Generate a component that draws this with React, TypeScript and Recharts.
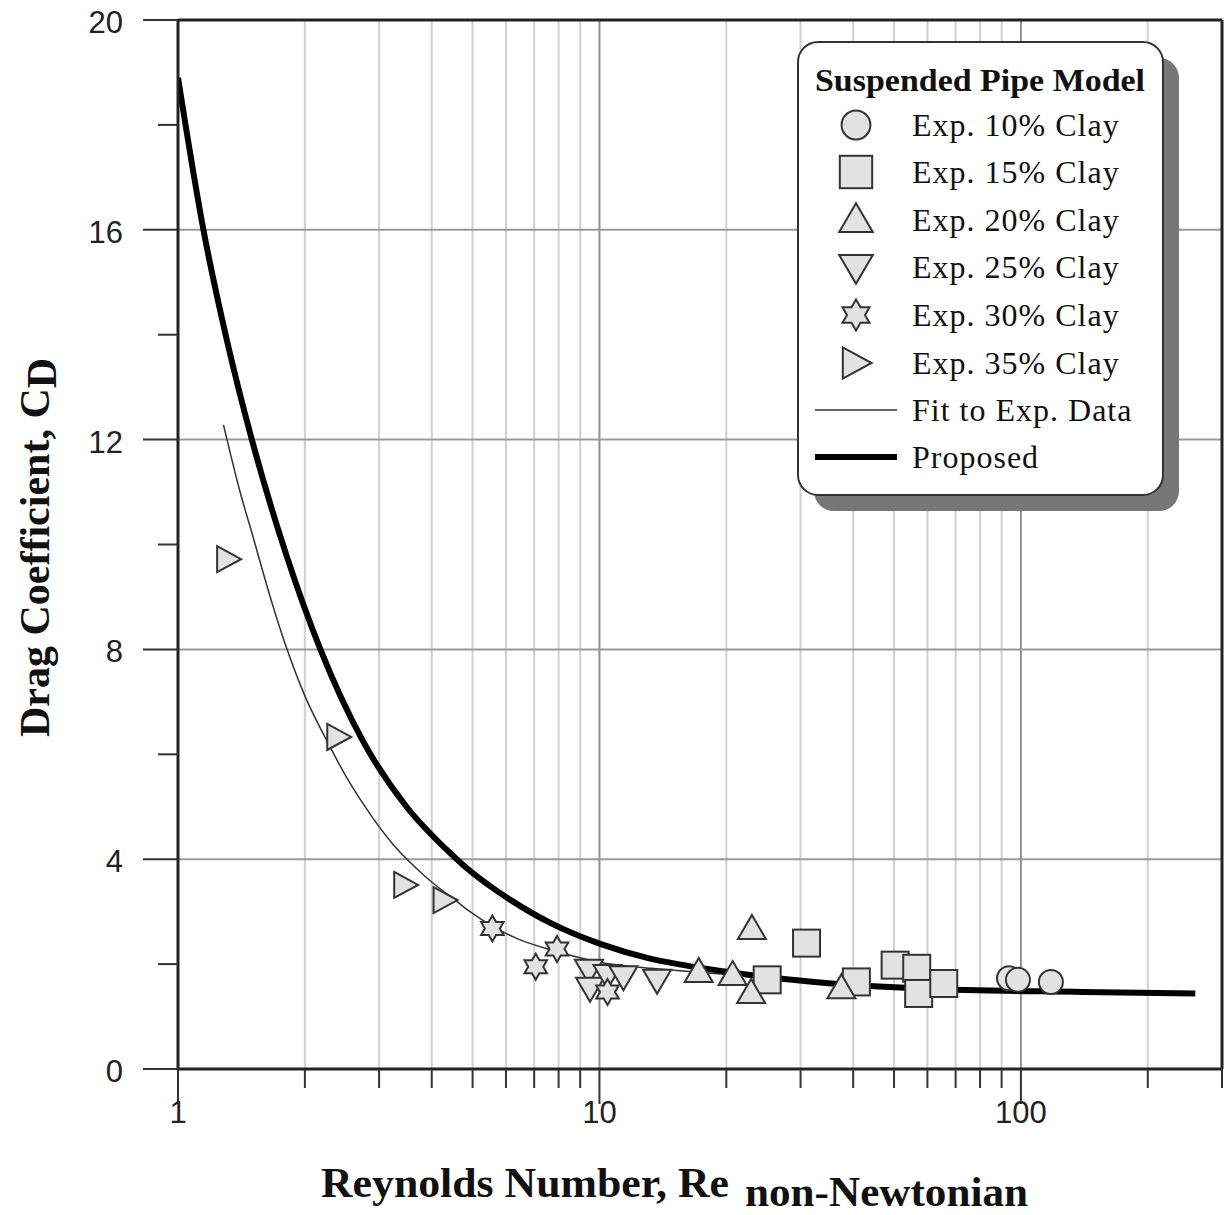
import React from 'react';
import { ComposedChart, XAxis, YAxis, Line, Scatter, ReferenceLine, Legend } from 'recharts';

// ---------- data ----------
const clay10 = [{ x: 93.7, y: 1.73 }, { x: 98.4, y: 1.7 }, { x: 117.8, y: 1.66 }];
const clay15 = [
  { x: 25, y: 1.7 }, { x: 31, y: 2.4 }, { x: 40.7, y: 1.66 }, { x: 50.3, y: 1.98 },
  { x: 56.6, y: 1.92 }, { x: 57.2, y: 1.44 }, { x: 65.6, y: 1.63 },
];
const clay20 = [
  { x: 17.2, y: 1.85 }, { x: 20.7, y: 1.79 }, { x: 23.0, y: 2.67 }, { x: 22.9, y: 1.45 }, { x: 37.5, y: 1.54 },
];
const clay25 = [
  { x: 9.44, y: 1.89 }, { x: 9.5, y: 1.55 }, { x: 10.45, y: 1.79 }, { x: 11.4, y: 1.77 }, { x: 13.7, y: 1.7 },
];
const clay30 = [{ x: 5.57, y: 2.68 }, { x: 7.06, y: 1.95 }, { x: 7.93, y: 2.29 }, { x: 10.45, y: 1.47 }];
const clay35 = [{ x: 1.315, y: 9.72 }, { x: 2.4, y: 6.33 }, { x: 3.46, y: 3.51 }, { x: 4.29, y: 3.22 }];

const fitCurve = [
  { x: 1.282, y: 12.28 }, { x: 1.404, y: 11.0 }, { x: 1.5, y: 10.2 }, { x: 1.655, y: 9.0 },
  { x: 1.797, y: 8.1 }, { x: 2.004, y: 7.1 }, { x: 2.258, y: 6.25 }, { x: 2.496, y: 5.6 },
  { x: 2.754, y: 5.05 }, { x: 3.246, y: 4.27 }, { x: 3.825, y: 3.7 }, { x: 4.609, y: 3.18 },
  { x: 4.948, y: 2.99 }, { x: 5.582, y: 2.72 }, { x: 6.401, y: 2.48 }, { x: 7.925, y: 2.24 },
  { x: 10.08, y: 2.03 }, { x: 13.26, y: 1.92 }, { x: 17.43, y: 1.84 }, { x: 22.93, y: 1.77 }, { x: 32.37, y: 1.66 },
];
const proposedCurve = [
  { x: 1.0, y: 18.9 }, { x: 1.149, y: 16.0 }, { x: 1.31, y: 13.85 }, { x: 1.497, y: 12.0 },
  { x: 1.816, y: 9.75 }, { x: 2.177, y: 8.0 }, { x: 2.739, y: 6.27 }, { x: 3.485, y: 5.0 },
  { x: 4.314, y: 4.2 }, { x: 4.762, y: 3.88 }, { x: 5.675, y: 3.41 }, { x: 6.16, y: 3.22 },
  { x: 7.666, y: 2.78 }, { x: 10.08, y: 2.38 }, { x: 13.26, y: 2.1 }, { x: 15.62, y: 1.99 },
  { x: 20.55, y: 1.84 }, { x: 32.37, y: 1.66 }, { x: 60.09, y: 1.53 }, { x: 139.7, y: 1.47 }, { x: 259.3, y: 1.44 },
];

const xTicks = [1, 2, 3, 4, 5, 6, 7, 8, 9, 10, 20, 30, 40, 50, 60, 70, 80, 90, 100, 200, 300];
const xLabelTicks = [1, 10, 100];
const yTicks = [0, 2, 4, 6, 8, 10, 12, 14, 16, 18, 20];
const yLabelTicks = [0, 4, 8, 12, 16, 20];
const minorGridX = [2, 3, 4, 5, 6, 7, 8, 9, 20, 30, 40, 50, 60, 70, 80, 90, 200];
const majorGridX = [10, 100];
const gridY = [4, 8, 12, 16];

const legendItems = [
  { label: 'Exp. 10% Clay', kind: 'circle' },
  { label: 'Exp. 15% Clay', kind: 'square' },
  { label: 'Exp. 20% Clay', kind: 'up' },
  { label: 'Exp. 25% Clay', kind: 'down' },
  { label: 'Exp. 30% Clay', kind: 'star' },
  { label: 'Exp. 35% Clay', kind: 'right' },
  { label: 'Fit to Exp. Data', kind: 'thin' },
  { label: 'Proposed', kind: 'thick' },
];

// ---------- styles ----------
const SERIF = '"Liberation Serif", "Times New Roman", serif';
const SANS = '"Liberation Sans", Arial, sans-serif';
const MFILL = '#e2e2e2';
const MSTROKE = '#333';
const MSW = 2;

// ---------- marker shapes ----------
function drawMarker(kind: string, cx: number, cy: number, s: number) {
  const common = { fill: MFILL, stroke: MSTROKE, strokeWidth: MSW };
  if (kind === 'circle') return <circle cx={cx} cy={cy} r={12 * s} {...common} />;
  if (kind === 'square') return <rect x={cx - 13.5 * s} y={cy - 13.5 * s} width={27 * s} height={27 * s} {...common} />;
  if (kind === 'up')
    return <polygon points={`${cx},${cy - 14 * s} ${cx + 14 * s},${cy + 10 * s} ${cx - 14 * s},${cy + 10 * s}`} {...common} />;
  if (kind === 'down')
    return <polygon points={`${cx - 14 * s},${cy - 10 * s} ${cx + 14 * s},${cy - 10 * s} ${cx},${cy + 14 * s}`} {...common} />;
  if (kind === 'right')
    return <polygon points={`${cx - 11 * s},${cy - 13 * s} ${cx + 13 * s},${cy} ${cx - 11 * s},${cy + 13 * s}`} {...common} />;
  if (kind === 'star') {
    const pts: string[] = [];
    for (let i = 0; i < 12; i++) {
      const r = (i % 2 === 0 ? 13 : 7.5) * s;
      const a = -Math.PI / 2 + (i * Math.PI) / 6;
      pts.push(`${cx + r * Math.cos(a)},${cy + r * Math.sin(a)}`);
    }
    return <polygon points={pts.join(' ')} {...common} />;
  }
  return null;
}

const shapeFor = (kind: string) => (p: any) => <g>{drawMarker(kind, p.cx, p.cy, 1)}</g>;

// ---------- ticks ----------
const XTick = (p: any) => {
  const v = p.payload.value;
  const major = xLabelTicks.includes(v);
  return (
    <g>
      <line x1={p.x} x2={p.x} y1={p.y} y2={p.y + (major ? 35 : 19)} stroke="#333" strokeWidth={2} />
      {major && (
        <text x={p.x} y={p.y + 54} textAnchor="middle" fontFamily={SANS} fontSize={31} fill="#222">
          {v}
        </text>
      )}
    </g>
  );
};

const YTick = (p: any) => {
  const v = p.payload.value;
  const major = yLabelTicks.includes(v);
  return (
    <g>
      <line x1={p.x - (major ? 35 : 20)} x2={p.x} y1={p.y} y2={p.y} stroke="#333" strokeWidth={2} />
      {major && (
        <text x={p.x - 55} y={p.y + 13} textAnchor="end" fontFamily={SANS} fontSize={31} fill="#222">
          {v}
        </text>
      )}
    </g>
  );
};

const XTitle = () => (
  <g>
    <text x={321} y={1197} fontFamily={SERIF} fontWeight="bold" fontSize={42} fill="#111" textLength={408} lengthAdjust="spacingAndGlyphs">
      Reynolds Number, Re
    </text>
    <text x={745} y={1206} fontFamily={SERIF} fontWeight="bold" fontSize={42} fill="#111" textLength={283} lengthAdjust="spacingAndGlyphs">
      non-Newtonian
    </text>
  </g>
);

const YTitle = () => (
  <g transform="translate(49,737) rotate(-90)">
    <text x={0} y={0} fontFamily={SERIF} fontWeight="bold" fontSize={42} fill="#111">
      <tspan>Drag Coefficient, C</tspan>
      <tspan dy={7}>D</tspan>
    </text>
  </g>
);

// ---------- legend ----------
const LegendBox = () => {
  const rowY = [84, 131, 179, 226, 274, 322, 369, 416];
  return (
    <svg width={400} height={490} style={{ display: 'block' }}>
      <rect x={17} y={17} width={365} height={453} rx={20} fill="#777" />
      <rect x={1} y={1} width={365} height={453} rx={20} fill="#fff" stroke="#333" strokeWidth={2} />
      <text x={18} y={50} fontFamily={SERIF} fontWeight="bold" fontSize={32} fill="#111" textLength={330} lengthAdjust="spacingAndGlyphs">
        Suspended Pipe Model
      </text>
      {legendItems.map((it, i) => {
        const cy = rowY[i];
        let icon: any = null;
        if (it.kind === 'thin') icon = <line x1={18} x2={100} y1={cy} y2={cy} stroke="#333" strokeWidth={1.5} />;
        else if (it.kind === 'thick') icon = <line x1={18} x2={100} y1={cy} y2={cy} stroke="#000" strokeWidth={6} />;
        else icon = drawMarker(it.kind, 59, cy, 1.2);
        return (
          <g key={it.label}>
            {icon}
            <text x={115} y={cy + 11} fontFamily={SERIF} fontSize={32} letterSpacing={1} fill="#111">
              {it.label}
            </text>
          </g>
        );
      })}
    </svg>
  );
};

export default function App() {
  return (
    <div style={{ position: 'absolute', left: 0, top: 0, width: 1225, height: 1215, background: '#fff' }}>
      <ComposedChart width={1225} height={1215} margin={{ top: 20, right: 3, bottom: 0, left: 0 }}>
        <XAxis
          dataKey="x"
          type="number"
          scale="log"
          domain={[1, 300]}
          allowDataOverflow
          ticks={xTicks}
          interval={0}
          height={146}
          tickSize={0}
          tickMargin={0}
          tickLine={false}
          axisLine={{ stroke: '#222', strokeWidth: 3 }}
          tick={XTick}
          label={XTitle}
        />
        <YAxis
          dataKey="y"
          type="number"
          domain={[0, 20]}
          allowDataOverflow
          ticks={yTicks}
          interval={0}
          width={178}
          tickSize={0}
          tickMargin={0}
          tickLine={false}
          axisLine={{ stroke: '#222', strokeWidth: 3 }}
          tick={YTick}
          label={YTitle}
        />
        {minorGridX.map((v) => (
          <ReferenceLine key={'mx' + v} x={v} stroke="#d0d0d0" strokeWidth={2} ifOverflow="visible" />
        ))}
        {majorGridX.map((v) => (
          <ReferenceLine key={'Mx' + v} x={v} stroke="#909090" strokeWidth={2} ifOverflow="visible" />
        ))}
        {gridY.map((v) => (
          <ReferenceLine key={'gy' + v} y={v} stroke="#9a9a9a" strokeWidth={2} ifOverflow="visible" />
        ))}
        <ReferenceLine y={20} stroke="#222" strokeWidth={3} ifOverflow="visible" />
        <ReferenceLine x={300} stroke="#222" strokeWidth={3} ifOverflow="visible" />

        <Scatter name="Exp. 10% Clay" data={clay10} dataKey="y" shape={shapeFor('circle')} isAnimationActive={false} />
        <Scatter name="Exp. 15% Clay" data={clay15} dataKey="y" shape={shapeFor('square')} isAnimationActive={false} />
        <Scatter name="Exp. 20% Clay" data={clay20} dataKey="y" shape={shapeFor('up')} isAnimationActive={false} />
        <Scatter name="Exp. 25% Clay" data={clay25} dataKey="y" shape={shapeFor('down')} isAnimationActive={false} />
        <Scatter name="Exp. 30% Clay" data={clay30} dataKey="y" shape={shapeFor('star')} isAnimationActive={false} />
        <Scatter name="Exp. 35% Clay" data={clay35} dataKey="y" shape={shapeFor('right')} isAnimationActive={false} />

        <Line name="Fit to Exp. Data" data={fitCurve} dataKey="y" type="monotone" stroke="#333" strokeWidth={1.5} dot={false} isAnimationActive={false} />
        <Line name="Proposed" data={proposedCurve} dataKey="y" type="monotone" stroke="#000" strokeWidth={6} dot={false} isAnimationActive={false} />

        <Legend
          content={LegendBox}
          layout="horizontal"
          verticalAlign="middle"
          align="center"
          wrapperStyle={{ left: 797, top: 41, width: 400, height: 490 }}
        />
      </ComposedChart>
    </div>
  );
}
